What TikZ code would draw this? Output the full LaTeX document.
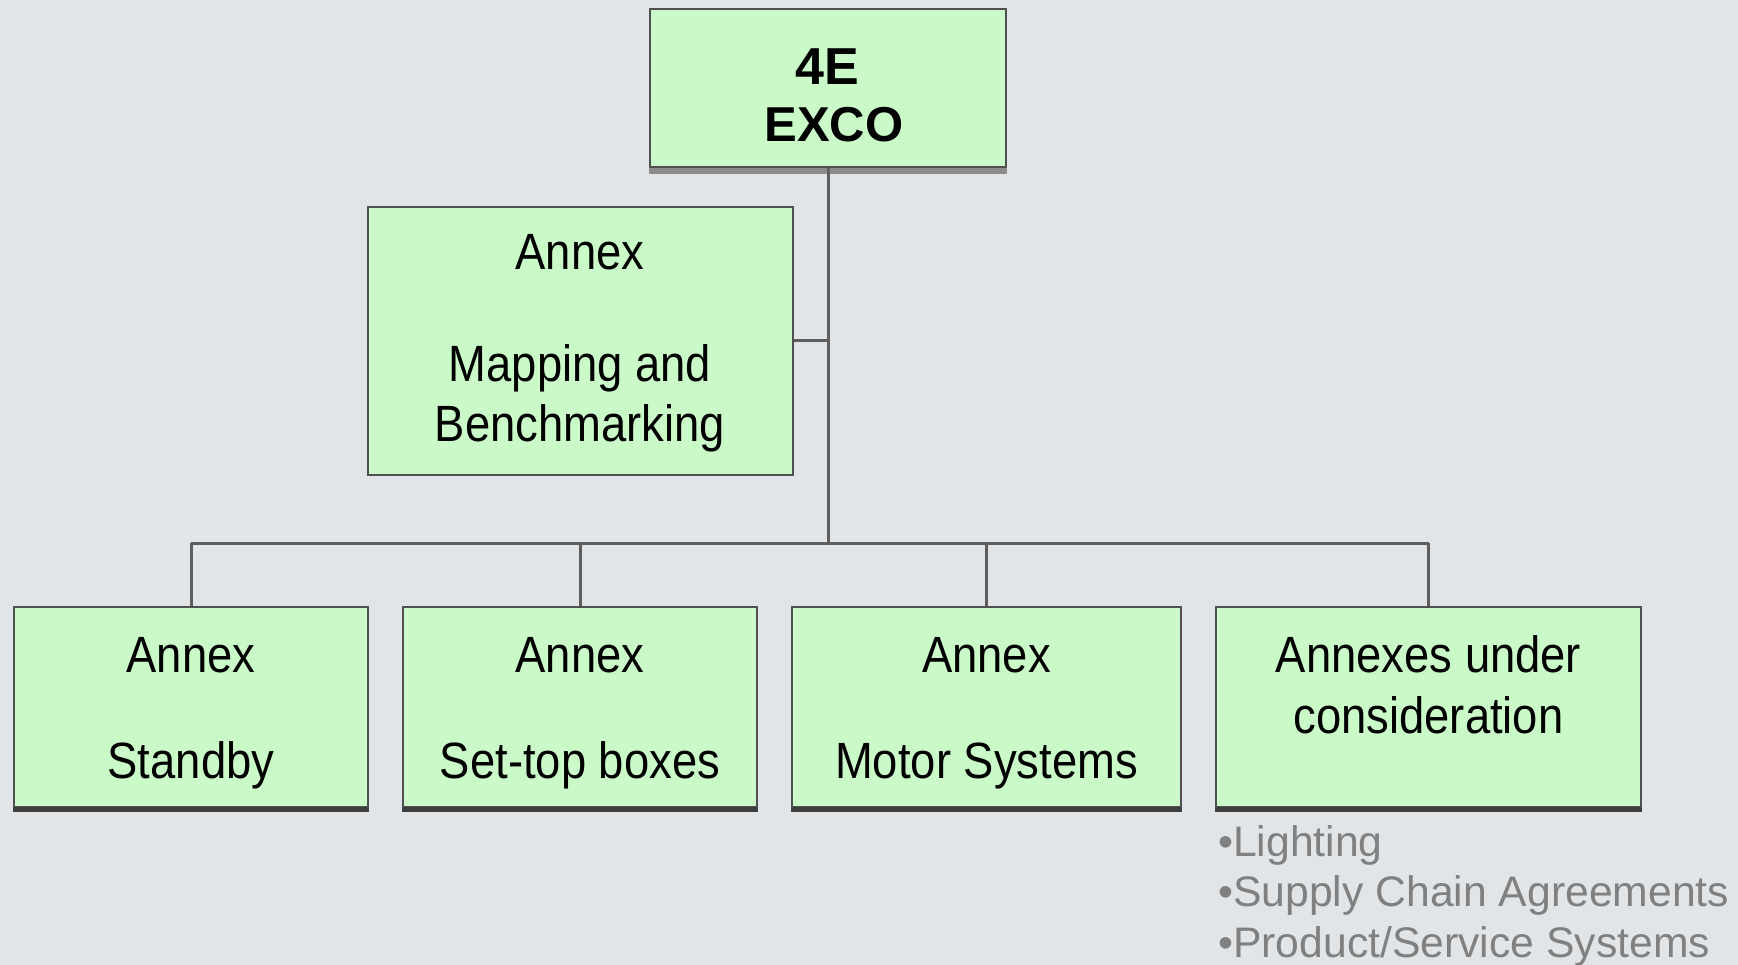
\documentclass[tikz,border=0pt]{standalone}
\usepackage{fontspec}
\setmainfont{Liberation Sans}
\newfontfamily\boxfont[FakeStretch=0.89]{Liberation Sans}
\definecolor{bg}{HTML}{E1E5E8}
\definecolor{boxfill}{HTML}{C9FAC8}
\definecolor{boxline}{HTML}{505050}
\definecolor{conn}{HTML}{5E5E5E}
\definecolor{bullettext}{HTML}{808080}
\tikzset{
  orgbox/.style={draw=boxline, line width=2.5pt, fill=boxfill, rectangle, inner sep=0pt},
  shadowline/.style={draw=black!75, line width=5pt},
  conline/.style={draw=conn, line width=3pt},
  boxtext/.style={anchor=base, inner sep=0pt, font=\boxfont\fontsize{51}{51}\selectfont},
  toptext/.style={anchor=base, inner sep=0pt, font=\bfseries\fontsize{#1}{#1}\selectfont},
  bullettext/.style={anchor=base west, inner sep=0pt, text=bullettext, font=\fontsize{42.7}{42.7}\selectfont}
}
\begin{document}
\begin{tikzpicture}[x=1pt,y=-1pt]
\fill[bg] (0,0) rectangle (1738,965);
\useasboundingbox (0,0) rectangle (1738,965);

% boxes
\node[orgbox, minimum width=356pt, minimum height=158pt] (exco) at (828,88) {};
\node[orgbox, minimum width=425pt, minimum height=268pt] (map) at (580.5,341) {};
\node[orgbox, minimum width=354pt, minimum height=200pt] (standby) at (191,707) {};
\node[orgbox, minimum width=354pt, minimum height=200pt] (stb) at (580,707) {};
\node[orgbox, minimum width=389pt, minimum height=200pt] (motor) at (986.5,707) {};
\node[orgbox, minimum width=425pt, minimum height=200pt] (under) at (1428.5,707) {};

% shadow bottoms
\draw[draw=black!45, line width=6pt] ([yshift=-3pt]exco.south west) -- ([yshift=-3pt]exco.south east);
\foreach \b in {standby,stb,motor,under}{
  \draw[shadowline] ([yshift=-1pt]\b.south west) -- ([yshift=-1pt]\b.south east);
}

% connectors
\coordinate (trunk) at (828,543);
\coordinate (mapjoin) at (828,341);
\coordinate (busL) at (191,543);
\coordinate (busR) at (1428.5,543);
\draw[conline] (exco.south) -- (trunk);
\draw[conline] (map.east) -- (mapjoin);
\draw[conline] (busL) -- (busR);
\draw[conline] (busL) -- (standby.north);
\draw[conline] (stb.north |- busL) -- (stb.north);
\draw[conline] (motor.north |- busL) -- (motor.north);
\draw[conline] (busR) -- (under.north);

% texts
\node[toptext=52] (t4e) at (827,85) {4E};
\node[toptext=49] (texco) at (834,142) {EXCO};

\node[boxtext] (m1) at (580,270) {Annex};
\node[boxtext] (m2) at (580,382) {Mapping and};
\node[boxtext] (m3) at (580,442) {Benchmarking};

\node[boxtext] (s1) at (191,672) {Annex};
\node[boxtext] (s2) at (191,778) {Standby};
\node[boxtext] (b1) at (580,672) {Annex};
\node[boxtext] (b2) at (580,778) {Set-top boxes};
\node[boxtext] (o1) at (986.5,672) {Annex};
\node[boxtext] (o2) at (986.5,778) {Motor Systems};
\node[boxtext] (u1) at (1428.5,672) {Annexes under};
\node[boxtext] (u2) at (1428.5,733) {consideration};

\node[bullettext] (l1) at (1218,856) {•Lighting};
\node[bullettext] (l2) at (1218,906) {•Supply Chain Agreements};
\node[bullettext] (l3) at (1218,957) {•Product/Service Systems};
\end{tikzpicture}
\end{document}
